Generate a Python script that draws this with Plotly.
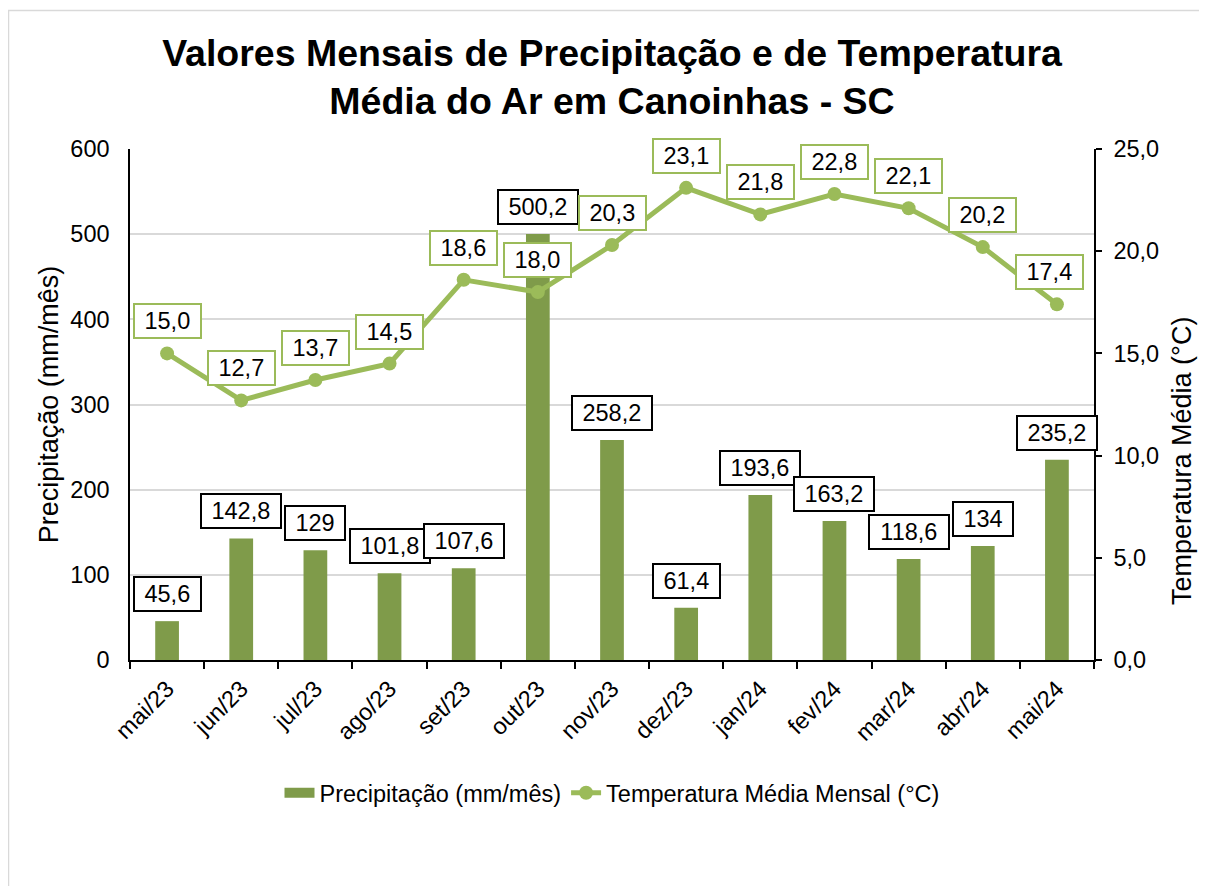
import plotly.graph_objects as go

months = ["mai/23", "jun/23", "jul/23", "ago/23", "set/23", "out/23", "nov/23",
          "dez/23", "jan/24", "fev/24", "mar/24", "abr/24", "mai/24"]
precip = [45.6, 142.8, 129, 101.8, 107.6, 500.2, 258.2, 61.4, 193.6, 163.2, 118.6, 134, 235.2]
temp = [15.0, 12.7, 13.7, 14.5, 18.6, 18.0, 20.3, 23.1, 21.8, 22.8, 22.1, 20.2, 17.4]

left_ticks = [0, 100, 200, 300, 400, 500, 600]
right_ticks = [0, 5, 10, 15, 20, 25]

FONT = "Liberation Sans, Arial, sans-serif"
FS = 23.5
FS_AXT = 27
BAR_COLOR = "#7f9b4a"
LINE_COLOR = "#9bbb59"

# the page body adds an 8px offset; figure coordinates = page coordinates - 8
OFF = 8
W, H = 1207 - OFF, 886 - OFF
PLOT_L, PLOT_R, PLOT_T, PLOT_B = 130 - OFF, 1094 - OFF, 149 - OFF, 660 - OFF
ml, mr, mt, mb = PLOT_L, W - PLOT_R, PLOT_T, H - PLOT_B
pw, ph = PLOT_R - PLOT_L, PLOT_B - PLOT_T


def px_x(page_px):
    return (page_px - OFF - PLOT_L) / pw


def px_y(page_py):
    return (PLOT_B - (page_py - OFF)) / ph


def fmt_precip(v):
    if float(v).is_integer():
        return str(int(v))
    return f"{v:.1f}".replace(".", ",")


def fmt_temp(v):
    return f"{v:.1f}".replace(".", ",")


def text_width(s):
    w = 0.0
    for ch in s:
        w += 0.278 if ch in ",." else 0.556
    return w * FS


fig = go.Figure()
fig.add_trace(go.Bar(
    x=months, y=precip, name="Precipitação (mm/mês)",
    marker=dict(color=BAR_COLOR, line=dict(width=0)),
    yaxis="y", showlegend=False, legendgroup="p",
))
# legend entry for the bars drawn as a wide swatch (as in the original)
fig.add_trace(go.Scatter(
    x=[None], y=[None], name="Precipitação (mm/mês)", mode="lines",
    line=dict(color=BAR_COLOR, width=14), legendgroup="p", hoverinfo="skip",
))
fig.add_trace(go.Scatter(
    x=months, y=temp, name="Temperatura Média Mensal (°C)",
    mode="lines+markers", yaxis="y2",
    line=dict(color=LINE_COLOR, width=5),
    marker=dict(color=LINE_COLOR, size=14),
))

annotations = []
for m, v in zip(months, precip):
    t = fmt_precip(v)
    annotations.append(dict(
        x=m, y=v, xref="x", yref="y", text=t, showarrow=False,
        yshift=27, yanchor="middle",
        font=dict(family=FONT, size=FS, color="black"),
        bgcolor="white", bordercolor="black", borderwidth=2, borderpad=1,
        width=text_width(t) + 17, height=30,
    ))
for i, (m, v) in enumerate(zip(months, temp)):
    t = fmt_temp(v)
    annotations.append(dict(
        x=m, y=v, xref="x", yref="y2", text=t, showarrow=False,
        yshift=32, yanchor="middle", xshift=(-7 if i == len(months) - 1 else 0),
        font=dict(family=FONT, size=FS, color="black"),
        bgcolor="white", bordercolor=LINE_COLOR, borderwidth=2, borderpad=1,
        width=text_width(t) + 17, height=30,
    ))
annotations.append(dict(
    x=px_x(1182), y=px_y(461), xref="paper", yref="paper", text="Temperatura Média (°C)",
    textangle=-90, showarrow=False, xanchor="center", yanchor="middle",
    font=dict(family=FONT, size=FS_AXT, color="black"),
))

fig.update_layout(
    width=W, height=H,
    margin=dict(l=ml, r=mr, t=mt, b=mb, autoexpand=False),
    paper_bgcolor="white", plot_bgcolor="white",
    separators=",.",
    font=dict(family=FONT, size=FS, color="black"),
    title=dict(
        text="<b>Valores Mensais de Precipitação e de Temperatura<br>Média do Ar em Canoinhas - SC</b>",
        x=0.5, xref="paper", xanchor="center",
        y=1 - 57.5 / H, yanchor="middle",
        font=dict(family=FONT, size=37.5, color="black"),
    ),
    bargap=0.68,
    showlegend=True,
    legend=dict(
        orientation="h", x=0.5, xanchor="center", y=px_y(793), yanchor="middle",
        font=dict(family=FONT, size=FS, color="black"),
        bgcolor="rgba(0,0,0,0)", traceorder="normal",
    ),
    xaxis=dict(
        type="category", range=[-0.5, len(months) - 0.5], showline=True,
        linecolor="black", linewidth=1.5,
        ticks="outside", tickson="boundaries", ticklen=7, tickcolor="black", tickwidth=1.5,
        tickangle=-45, tickfont=dict(family=FONT, size=FS, color="black"),
        showgrid=False, ticklabelstandoff=4,
    ),
    yaxis=dict(
        range=[0, 600], tickvals=left_ticks, showline=True, linecolor="black", linewidth=1.5,
        ticks="", showgrid=True, gridcolor="#d9d9d9", gridwidth=1.5, zeroline=False,
        tickfont=dict(family=FONT, size=FS, color="black"), ticklabelstandoff=14,
        title=dict(text="Precipitação (mm/mês)", font=dict(family=FONT, size=FS_AXT, color="black"), standoff=4),
    ),
    yaxis2=dict(
        range=[0, 25], tickvals=right_ticks, tickformat=".1f", overlaying="y", side="right",
        showline=True, linecolor="black", linewidth=1.5, ticks="outside", ticklen=6,
        tickcolor="black", tickwidth=1.5, showgrid=False, zeroline=False,
        tickfont=dict(family=FONT, size=FS, color="black"), ticklabelstandoff=7,
    ),
    annotations=annotations,
    shapes=[dict(
        type="rect", xref="paper", yref="paper",
        x0=px_x(8.5), x1=px_x(1230), y0=px_y(900), y1=px_y(10.5),
        line=dict(color="#d9d9d9", width=1.5), fillcolor="rgba(0,0,0,0)", layer="below",
    )],
)

fig.write_html("out.html")
